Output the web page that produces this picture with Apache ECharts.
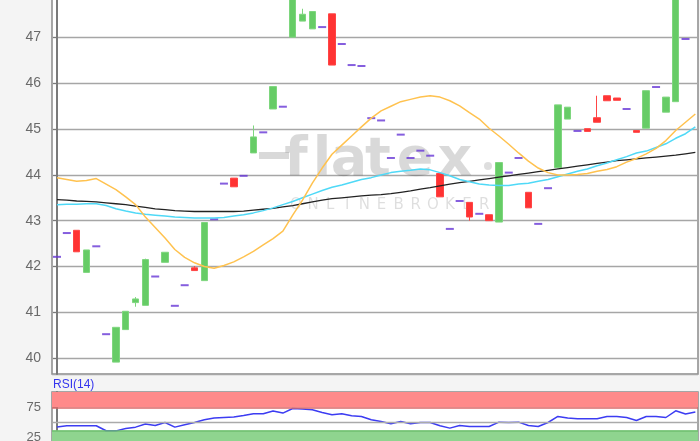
<!DOCTYPE html>
<html><head><meta charset="utf-8">
<script src="https://cdn.jsdelivr.net/npm/echarts@6/dist/echarts.min.js"></script>
<style>html,body{margin:0;padding:0;background:#f4f4f4}#c{width:700px;height:441px}</style>
</head><body><div id="c"></div>
<script>
// Daily OHLC (flat days: open = close = low = high, drawn as dashes)
const openP  = [42.21,42.73,42.79,41.87,42.44,40.52,39.91,40.62,41.21,41.15,41.78,42.09,41.14,41.59,41.97,41.69,43.03,43.81,43.93,43.98,44.48,44.93,45.44,45.49,47.01,47.36,47.19,47.23,47.52,46.86,46.40,46.38,45.24,45.19,44.37,44.88,44.37,44.53,44.42,44.03,42.82,43.43,43.40,43.15,43.13,42.97,44.05,44.37,43.62,42.93,43.71,44.16,45.22,44.96,45.01,45.25,45.73,45.68,45.44,44.97,45.02,45.92,45.37,45.60,46.97];
const closeP = [42.21,42.73,42.32,42.36,42.44,40.52,40.67,41.02,41.29,42.15,41.78,42.31,41.14,41.59,41.91,42.96,43.03,43.81,43.74,43.98,44.83,44.93,45.93,45.49,47.95,47.51,47.57,47.23,46.40,46.86,46.40,46.38,45.24,45.19,44.37,44.88,44.37,44.53,44.42,43.52,42.82,43.43,43.08,43.15,43.00,44.27,44.05,44.37,43.28,42.93,43.71,45.53,45.48,44.96,44.95,45.15,45.62,45.63,45.44,44.93,45.84,45.92,45.70,47.95,46.97];
const lowP   = [42.21,42.73,42.32,41.87,42.44,40.52,39.91,40.62,41.12,41.15,41.78,42.09,41.14,41.59,41.91,41.69,43.03,43.81,43.74,43.98,44.48,44.93,45.44,45.49,47.01,47.36,47.19,47.23,46.40,46.86,46.40,46.38,45.24,45.19,44.37,44.88,44.37,44.53,44.42,43.52,42.82,43.43,43.00,43.15,43.00,42.97,44.05,44.37,43.28,42.93,43.71,44.16,45.22,44.96,44.95,45.15,45.62,45.63,45.44,44.93,45.02,45.92,45.37,45.60,46.97];
const highP  = [42.21,42.73,42.79,42.36,42.44,40.52,40.67,41.02,41.33,42.17,41.78,42.31,41.14,41.59,42.01,42.96,43.03,43.81,43.93,43.98,45.08,44.93,45.93,45.49,47.95,47.63,47.57,47.23,47.52,46.86,46.40,46.38,45.24,45.19,44.37,44.88,44.37,44.53,44.42,44.03,42.82,43.43,43.40,43.15,43.13,44.27,44.05,44.37,43.62,42.93,43.71,45.53,45.48,44.96,45.01,45.73,45.73,45.68,45.44,44.97,45.84,45.92,45.70,47.95,46.97];
// Moving averages (orange = short, cyan = medium, black = long)
const maShort = [43.94,43.90,43.86,43.88,43.92,43.80,43.68,43.52,43.35,43.08,42.85,42.62,42.37,42.20,42.08,42.00,41.96,42.02,42.10,42.21,42.33,42.47,42.61,42.77,43.12,43.45,43.82,44.15,44.45,44.65,44.85,45.05,45.24,45.40,45.50,45.60,45.65,45.70,45.73,45.70,45.62,45.51,45.36,45.22,45.02,44.85,44.67,44.48,44.30,44.15,44.05,44.00,44.00,44.01,44.03,44.08,44.12,44.18,44.28,44.36,44.46,44.58,44.75,44.97,45.15,45.33];
const maMid   = [43.35,43.36,43.36,43.37,43.37,43.33,43.26,43.21,43.17,43.14,43.12,43.10,43.08,43.07,43.06,43.06,43.06,43.07,43.10,43.13,43.17,43.22,43.28,43.35,43.42,43.50,43.58,43.66,43.73,43.78,43.84,43.90,43.94,44.00,44.05,44.08,44.10,44.13,44.11,44.05,43.98,43.90,43.85,43.80,43.78,43.77,43.77,43.80,43.82,43.86,43.90,43.96,44.02,44.08,44.13,44.20,44.26,44.33,44.40,44.48,44.52,44.60,44.68,44.80,44.90,45.05];
const maLong  = [43.46,43.45,43.43,43.42,43.41,43.39,43.37,43.35,43.32,43.29,43.26,43.24,43.22,43.21,43.20,43.20,43.20,43.20,43.20,43.21,43.23,43.25,43.27,43.30,43.33,43.37,43.41,43.45,43.48,43.50,43.52,43.54,43.56,43.57,43.59,43.62,43.65,43.69,43.72,43.76,43.80,43.83,43.86,43.89,43.92,43.95,43.98,44.01,44.04,44.07,44.10,44.13,44.16,44.19,44.22,44.25,44.28,44.31,44.33,44.35,44.37,44.39,44.41,44.43,44.46,44.49];
// RSI(14)
const rsi = [42.8,44.6,44.6,44.6,44.6,36.5,36.3,40.1,42.4,47.4,45.1,50.0,42.4,46.2,50.0,54.4,57.2,58.2,58.9,61.5,64.3,64.3,68.7,65.4,73.0,72.0,71.0,66.4,62.7,64.3,61.0,59.9,54.4,51.6,47.9,51.6,47.9,50.0,50.0,44.6,40.8,45.1,43.4,43.4,43.4,50.6,50.0,50.6,45.1,43.4,50.0,59.9,57.2,56.1,56.1,56.1,59.9,59.9,58.2,53.3,59.9,59.9,58.2,69.2,63.8,67.1];
const rsiLabels = [25, 75];
const rsiBands = {over: [75, 100], under: [0, 37], mid: 50};

const candles = [], flats = [];
for (let i = 0; i < openP.length; i++) {
  const o = openP[i], c = closeP[i], l = lowP[i], h = highP[i];
  if (o === c && l === h && o === l) flats.push([i, o]);
  else candles.push([i, o, c, l, h]);
}
const pairs = a => a.map((v, i) => [i, v]);

const FONT = 'Liberation Sans, Arial, sans-serif';
const chart = echarts.init(document.getElementById('c'));
const xCommon = {type: 'value', min: -0.509, max: 65.27, show: false};
const WM = 'rgba(0,0,0,0.15)';
const wmLetters = 'flatex'.split('');
const wmX = [296, 322, 349, 378, 415, 455];
const subLetters = 'ONLINEBROKER'.split('');
const graphic = [];
graphic.push({type: 'rect', shape: {x: 259, y: 152, width: 30, height: 7}, style: {fill: WM}, z: 1});
wmLetters.forEach((ch, k) => graphic.push({type: 'text', x: wmX[k], y: 161, z: 1,
  style: {text: ch, font: 'bold 54px DejaVu Sans, sans-serif', fill: WM, textAlign: 'center', textVerticalAlign: 'middle'}}));
graphic.push({type: 'circle', shape: {cx: 488, cy: 166, r: 4}, style: {fill: 'rgba(0,0,0,0.13)'}, z: 1});
subLetters.forEach((ch, k) => graphic.push({type: 'text', x: 296 + 17.1 * k, y: 205, z: 1,
  style: {text: ch, font: '15px DejaVu Sans, sans-serif', fill: 'rgba(0,0,0,0.13)', textAlign: 'center', textVerticalAlign: 'middle'}}));
graphic.push({type: 'text', x: 53, y: 379, style: {text: 'RSI(14)', font: '12px ' + FONT, fill: '#3535ee'}});

chart.setOption({
  animation: false,
  backgroundColor: '#f4f4f4',
  graphic,
  grid: [
    {left: 52, top: -10, width: 646, height: 384, outerBoundsMode: 'none', containLabel: false, show: true, backgroundColor: '#fff', borderColor: '#8a8a8a', borderWidth: 1.5},
    {left: 52, top: 392, width: 646, height: 61, outerBoundsMode: 'none', containLabel: false, show: true, backgroundColor: '#fff', borderColor: '#8a8a8a', borderWidth: 1.5}
  ],
  xAxis: [Object.assign({gridIndex: 0}, xCommon), Object.assign({gridIndex: 1}, xCommon)],
  yAxis: [
    {gridIndex: 0, type: 'value', min: 39.65, max: 48.04, splitNumber: 8, minInterval: 1, maxInterval: 1,
     axisLine: {show: true, lineStyle: {color: '#7a7a7a', width: 2}},
     axisTick: {show: true, length: 4, lineStyle: {color: '#7a7a7a'}},
     axisLabel: {showMinLabel: false, showMaxLabel: false, color: '#6a6a6a', fontSize: 14, fontFamily: FONT, margin: 11},
     splitLine: {show: true, lineStyle: {color: '#a6a6a6', width: 1.3}}},
    {gridIndex: 1, type: 'value', min: 0, max: 100, interval: 25,
     axisLine: {show: true, lineStyle: {color: '#7a7a7a', width: 2}},
     axisTick: {show: true, length: 4, customValues: rsiLabels, lineStyle: {color: '#7a7a7a'}},
     axisLabel: {customValues: rsiLabels, color: '#6a6a6a', fontSize: 13, fontFamily: FONT, margin: 11,
       formatter: v => rsiLabels.indexOf(v) >= 0 ? String(v) : ''},
     splitLine: {show: false}}
  ],
  series: [
    {type: 'candlestick', xAxisIndex: 0, yAxisIndex: 0, data: candles, barWidth: 7, clip: true, z: 3,
     itemStyle: {color: '#66cc66', color0: '#ff3333', borderColor: '#7ed67e', borderColor0: '#ff4545', borderWidth: 1}},
    {type: 'scatter', xAxisIndex: 0, yAxisIndex: 0, data: flats, symbol: 'rect', symbolSize: [8, 2], z: 3,
     itemStyle: {color: '#6636d6'}},
    {type: 'line', xAxisIndex: 0, yAxisIndex: 0, data: pairs(maLong), showSymbol: false, z: 4,
     lineStyle: {color: '#222', width: 1.3}},
    {type: 'line', xAxisIndex: 0, yAxisIndex: 0, data: pairs(maMid), showSymbol: false, z: 4,
     lineStyle: {color: '#4fd9f7', width: 1.5}},
    {type: 'line', xAxisIndex: 0, yAxisIndex: 0, data: pairs(maShort), showSymbol: false, z: 4,
     lineStyle: {color: '#ffc24f', width: 1.5}},
    {type: 'line', xAxisIndex: 1, yAxisIndex: 1, data: pairs(rsi), showSymbol: false, z: 4,
     lineStyle: {color: '#3c3cf2', width: 1.5},
     markArea: {silent: true, data: [
       [{yAxis: rsiBands.over[0], itemStyle: {color: '#ff8a8a'}}, {yAxis: rsiBands.over[1]}],
       [{yAxis: rsiBands.under[0], itemStyle: {color: '#8fd48f'}}, {yAxis: rsiBands.under[1]}]
     ]},
     markLine: {silent: true, symbol: 'none', label: {show: false}, data: [
       {yAxis: rsiBands.over[0], lineStyle: {color: '#d86a6a', type: 'solid', width: 1.5}},
       {yAxis: rsiBands.under[1], lineStyle: {color: '#6fbf6f', type: 'solid', width: 1.5}},
       {yAxis: rsiBands.mid, lineStyle: {color: '#aaaaaa', type: 'solid', width: 1.3}}
     ]}}
  ]
});
</script></body></html>
